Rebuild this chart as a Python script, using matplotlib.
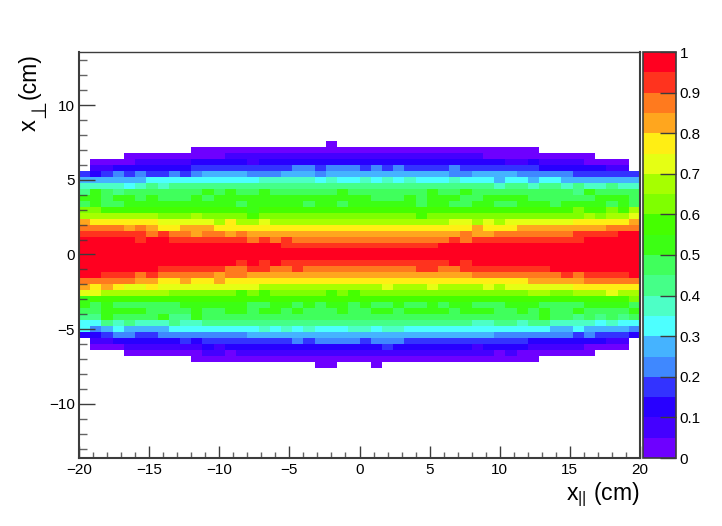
import numpy as np
import matplotlib
matplotlib.use("Agg")
import matplotlib.pyplot as plt
from matplotlib.colors import ListedColormap, BoundaryNorm
from matplotlib.ticker import MultipleLocator

plt.rcParams['font.family'] = ['Liberation Sans', 'DejaVu Sans']
plt.rcParams['mathtext.fontset'] = 'custom'
plt.rcParams['mathtext.rm'] = 'Liberation Sans'
plt.rcParams['mathtext.it'] = 'Liberation Sans'
plt.rcParams['mathtext.bf'] = 'Liberation Sans'
plt.rcParams['mathtext.fallback'] = 'stixsans'

# colour level per cell: (level, last column of the run); -1 = empty bin
y_bin_first = 18   # top row covers x_perp in [18*0.4, 19*0.4]
level_rows = [
 [(-1,21),(0,22),(-1,49)],
 [(-1,9),(0,40),(-1,49)],
 [(-1,3),(0,12),(1,35),(0,45),(-1,49)],
 [(-1,0),(0,4),(1,9),(2,14),(1,15),(2,37),(1,39),(2,40),(1,44),(0,48),(-1,49)],
 [(-1,0),(1,2),(2,9),(3,18),(4,20),(3,21),(4,24),(3,25),(4,26),(3,27),(4,28),(3,32),(4,33),(3,40),(2,46),(1,48),(-1,49)],
 [(3,0),(2,1),(3,2),(4,3),(3,4),(4,5),(3,7),(4,8),(3,9),(4,10),(5,14),(4,17),(5,20),(4,21),(5,32),(4,34),(5,38),(4,43),(3,49)],
 [(5,5),(6,15),(7,20),(6,21),(7,22),(6,24),(7,25),(6,26),(7,27),(6,28),(7,29),(6,32),(7,33),(6,36),(5,37),(6,39),(5,40),(6,42),(5,49)],
 [(7,3),(6,4),(7,5),(8,6),(7,7),(8,36),(7,37),(8,39),(7,40),(8,42),(7,43),(8,44),(7,46),(8,47),(7,49)],
 [(8,0),(10,1),(9,2),(8,3),(9,10),(10,11),(9,12),(10,13),(9,15),(10,16),(9,22),(10,23),(9,30),(10,31),(9,33),(10,34),(9,43),(8,44),(10,45),(9,49)],
 [(10,1),(9,2),(10,4),(9,5),(10,6),(9,9),(10,10),(9,11),(10,25),(9,28),(10,29),(9,30),(10,33),(9,35),(10,39),(9,45),(10,48),(9,49)],
 [(9,0),(10,1),(9,3),(10,13),(9,14),(10,19),(9,20),(10,22),(9,23),(10,29),(9,30),(10,32),(9,34),(10,36),(9,38),(10,41),(9,42),(10,46),(9,47),(10,48),(9,49)],
 [(12,1),(11,14),(10,15),(11,43),(12,44),(11,46),(12,47),(11,48),(13,49)],
 [(13,6),(12,9),(13,10),(12,14),(11,15),(12,29),(11,30),(12,44),(13,45),(12,46),(13,48),(14,49)],
 [(16,0),(15,6),(14,11),(13,12),(15,13),(13,15),(14,16),(13,32),(14,34),(13,35),(14,36),(13,37),(14,43),(15,48),(16,49)],
 [(17,3),(16,4),(17,5),(16,6),(15,8),(16,11),(15,34),(16,35),(15,38),(16,46),(17,49)],
 [(18,5),(17,6),(18,7),(17,9),(16,10),(17,12),(16,13),(17,14),(16,33),(17,34),(16,36),(17,43),(18,47),(19,49)],
 [(19,4),(18,5),(19,7),(18,14),(17,15),(18,16),(17,17),(18,18),(17,32),(18,33),(17,34),(18,44),(19,49)],
 [(19,17),(18,31),(19,49)],
 [(19,49)],
 [(19,49)],
 [(19,13),(18,14),(19,15),(18,16),(19,17),(18,32),(19,33),(18,34),(19,49)],
 [(19,6),(18,12),(17,14),(18,16),(17,18),(18,19),(17,29),(18,31),(17,33),(18,41),(19,49)],
 [(19,1),(18,4),(17,5),(18,6),(17,11),(16,12),(17,14),(16,34),(17,42),(18,43),(17,44),(18,48),(19,49)],
 [(17,4),(16,6),(15,8),(16,9),(15,11),(16,12),(15,39),(16,44),(17,49)],
 [(16,0),(15,1),(16,2),(15,3),(14,5),(15,6),(14,15),(13,26),(14,27),(13,30),(14,31),(13,35),(14,36),(13,37),(14,43),(15,49)],
 [(14,1),(13,7),(12,13),(11,14),(12,15),(11,16),(12,21),(11,22),(12,23),(11,24),(12,39),(13,41),(12,43),(13,46),(14,47),(13,49)],
 [(10,0),(11,48),(12,49)],
 [(10,0),(9,1),(10,2),(9,8),(10,14),(9,16),(10,18),(9,19),(10,20),(9,21),(10,23),(9,24),(10,25),(9,27),(10,28),(9,30),(10,31),(9,32),(10,34),(9,37),(10,40),(9,44),(10,48),(9,49)],
 [(9,1),(10,5),(9,9),(10,10),(9,12),(10,14),(9,15),(10,17),(9,18),(10,19),(9,22),(10,23),(9,25),(10,27),(9,28),(10,32),(9,33),(10,36),(9,38),(10,39),(9,40),(10,41),(9,43),(10,44),(9,48),(10,49)],
 [(8,1),(10,2),(9,6),(10,7),(8,9),(10,10),(9,40),(10,41),(9,43),(8,44),(9,45),(8,46),(9,47),(8,48),(9,49)],
 [(6,1),(8,2),(7,3),(8,4),(7,7),(8,8),(7,10),(8,34),(7,36),(8,38),(7,39),(8,41),(7,45),(6,46),(7,47),(6,49)],
 [(6,0),(4,1),(5,2),(6,3),(5,7),(6,15),(7,16),(6,17),(7,18),(6,19),(7,20),(6,23),(7,25),(6,26),(7,28),(6,41),(5,43),(6,44),(5,48),(4,49)],
 [(2,1),(3,2),(4,4),(3,6),(4,14),(5,36),(4,43),(3,44),(4,45),(3,48),(2,49)],
 [(-1,0),(1,2),(2,8),(3,9),(2,10),(3,18),(4,19),(3,20),(4,24),(3,25),(4,28),(3,39),(2,46),(1,48),(-1,49)],
 [(-1,0),(0,3),(1,10),(2,11),(1,12),(2,26),(3,27),(2,34),(1,35),(2,39),(1,44),(0,48),(-1,49)],
 [(-1,3),(0,10),(1,12),(0,13),(1,36),(0,37),(1,38),(0,45),(-1,49)],
 [(-1,9),(0,40),(-1,49)],
 [(-1,20),(0,22),(-1,25),(0,26),(-1,49)],
]
palette = ['#6e00ff','#4400ff','#2800ff','#3333ff','#3f88ff','#45b3ff','#4dffff','#4dffc6',
           '#45ff88','#40ff5c','#3cff14','#45ff00','#7fff00','#a6ff00','#e5ff14','#ffee14',
           '#ffa61e','#ff7a1e','#ff331e','#ff0020']
colorbar_ticks = [0, 0.1, 0.2, 0.3, 0.4, 0.5, 0.6, 0.7, 0.8, 0.9, 1]
colorbar_labels = ['0', '0.1', '0.2', '0.3', '0.4', '0.5', '0.6', '0.7', '0.8', '0.9', '1']

n_x = 50
n_rows = len(level_rows)
x_edges = np.linspace(-20, 20, n_x + 1)
y_edges = 0.4 * np.arange(y_bin_first + 1 - n_rows, y_bin_first + 2)

Z = np.full((n_rows, n_x), np.nan)
for r, runs in enumerate(level_rows):
    start = 0
    row_index = n_rows - 1 - r
    for level, last in runs:
        if level >= 0:
            Z[row_index, start:last + 1] = (level + 0.5) / 20
        start = last + 1

W, H = 722, 526
fig = plt.figure(figsize=(W / 100, H / 100), dpi=100, facecolor='white')
ax = fig.add_axes([79 / W, 1 - 458 / H, (640 - 79) / W, (458 - 52) / H])
cax = fig.add_axes([643 / W, 1 - 458 / H, (676 - 643) / W, (458 - 52) / H])

cmap = ListedColormap(palette)
norm = BoundaryNorm(np.linspace(0, 1, 21), 20)
mesh = ax.pcolormesh(x_edges, y_edges, np.ma.masked_invalid(Z), cmap=cmap, norm=norm,
                     linewidth=0, antialiased=False, zorder=1)
ax.set_xlim(-20, 20)
ax.set_ylim(-13.62, 13.55)

frame_col = '#3c3c3c'
for s in ax.spines.values():
    s.set_color(frame_col)
    s.set_zorder(5)
ax.spines['left'].set_linewidth(1.5)
ax.spines['bottom'].set_linewidth(1.5)
ax.spines['right'].set_linewidth(1.5)
ax.spines['top'].set_linewidth(1.0)

ax.xaxis.set_major_locator(MultipleLocator(5))
ax.xaxis.set_minor_locator(MultipleLocator(1))
ax.yaxis.set_major_locator(MultipleLocator(5))
ax.yaxis.set_minor_locator(MultipleLocator(1))
ax.set_axisbelow(False)
ax.tick_params(axis='x', which='major', direction='in', length=8.6, width=1.0, color=frame_col,
               labelsize=11, pad=3.5, top=False)
ax.tick_params(axis='x', which='minor', direction='in', length=4.3, width=1.0, color=frame_col, top=False)
ax.tick_params(axis='y', which='major', direction='in', length=11.5, width=1.0, color=frame_col,
               labelsize=11, pad=3, right=False)
ax.tick_params(axis='y', which='minor', direction='in', length=5.8, width=1.0, color=frame_col, right=False)
for t in ax.xaxis.get_minor_ticks() + ax.yaxis.get_minor_ticks():
    t.tick1line.set_alpha(0.8)

ax.set_xticks([-20, -15, -10, -5, 0, 5, 10, 15, 20])
ax.set_xticklabels(['\u221220', '\u221215', '\u221210', '\u22125', '0', '5', '10', '15', '20'])
ax.set_yticks([-10, -5, 0, 5, 10])
ax.set_yticklabels(['\u221210', '\u22125', '0', '5', '10'])

fig.text(640 / W, 1 - 500 / H, r'$\mathregular{x_{||}}$ (cm)', ha='right', va='baseline', fontsize=16.6)

# y title built from three rotated pieces: the reference's perp sign is full size
fig.text(41 / W, 1 - 131 / H, 'x', ha='right', va='bottom', rotation=90, fontsize=17)
fig.text(49.5 / W, 1 - 118 / H, '\u22a5', ha='right', va='bottom', rotation=90, fontsize=15,
         family=['DejaVu Sans'])
fig.text(41 / W, 1 - 53 / H, '(cm)', ha='right', va='top', rotation=90, fontsize=16.6)

cb = fig.colorbar(mesh, cax=cax, ticks=colorbar_ticks, spacing='proportional', drawedges=False)
cb.ax.set_yticklabels(colorbar_labels)
cb.outline.set_edgecolor(frame_col)
cb.outline.set_linewidth(1.2)
cax.tick_params(axis='y', which='major', direction='in', right=True, left=False, length=11.5, width=1.0,
                color=frame_col, labelsize=11, pad=2.5)
cax.tick_params(axis='y', which='minor', length=0)

fig.savefig('out.png', dpi=100, facecolor='white')
